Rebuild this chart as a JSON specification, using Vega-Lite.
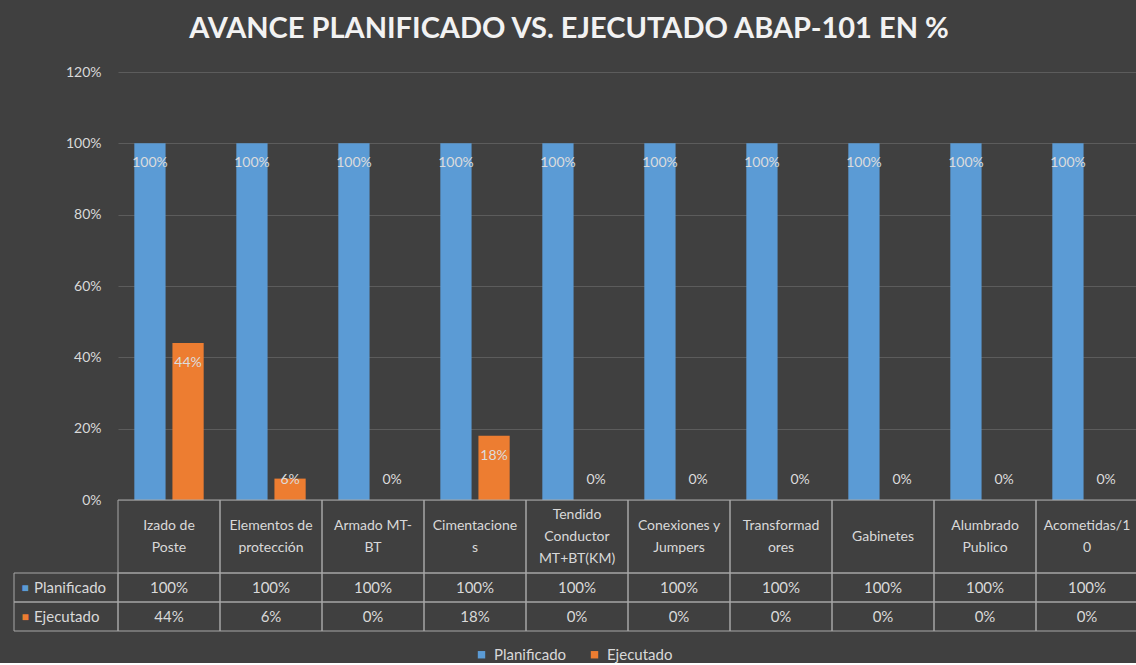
{
  "$schema": "https://vega.github.io/schema/vega-lite/v6.json",
  "background": "#404040",
  "padding": {"left": 13, "top": 15, "right": 0, "bottom": 0},
  "title": {"text": "AVANCE PLANIFICADO VS. EJECUTADO ABAP-101 EN %", "fontSize": 29, "font": "Lato", "fontWeight": "bold", "color": "#f2f2f2", "anchor": "middle", "offset": 21, "dx": -7, "limit": 1100},
  "data": {"values": [
    {"cat": "Izado de Poste", "label": "Izado de\nPoste", "serie": "Planificado", "value": 1.0},
    {"cat": "Izado de Poste", "label": "Izado de\nPoste", "serie": "Ejecutado", "value": 0.44},
    {"cat": "Elementos de protección", "label": "Elementos de\nprotección", "serie": "Planificado", "value": 1.0},
    {"cat": "Elementos de protección", "label": "Elementos de\nprotección", "serie": "Ejecutado", "value": 0.06},
    {"cat": "Armado MT-BT", "label": "Armado MT-\nBT", "serie": "Planificado", "value": 1.0},
    {"cat": "Armado MT-BT", "label": "Armado MT-\nBT", "serie": "Ejecutado", "value": 0.0},
    {"cat": "Cimentaciones", "label": "Cimentacione\ns", "serie": "Planificado", "value": 1.0},
    {"cat": "Cimentaciones", "label": "Cimentacione\ns", "serie": "Ejecutado", "value": 0.18},
    {"cat": "Tendido Conductor MT+BT(KM)", "label": "Tendido\nConductor\nMT+BT(KM)", "serie": "Planificado", "value": 1.0},
    {"cat": "Tendido Conductor MT+BT(KM)", "label": "Tendido\nConductor\nMT+BT(KM)", "serie": "Ejecutado", "value": 0.0},
    {"cat": "Conexiones y Jumpers", "label": "Conexiones y\nJumpers", "serie": "Planificado", "value": 1.0},
    {"cat": "Conexiones y Jumpers", "label": "Conexiones y\nJumpers", "serie": "Ejecutado", "value": 0.0},
    {"cat": "Transformadores", "label": "Transformad\nores", "serie": "Planificado", "value": 1.0},
    {"cat": "Transformadores", "label": "Transformad\nores", "serie": "Ejecutado", "value": 0.0},
    {"cat": "Gabinetes", "label": "Gabinetes", "serie": "Planificado", "value": 1.0},
    {"cat": "Gabinetes", "label": "Gabinetes", "serie": "Ejecutado", "value": 0.0},
    {"cat": "Alumbrado Publico", "label": "Alumbrado\nPublico", "serie": "Planificado", "value": 1.0},
    {"cat": "Alumbrado Publico", "label": "Alumbrado\nPublico", "serie": "Ejecutado", "value": 0.0},
    {"cat": "Acometidas/10", "label": "Acometidas/1\n0", "serie": "Planificado", "value": 1.0},
    {"cat": "Acometidas/10", "label": "Acometidas/1\n0", "serie": "Ejecutado", "value": 0.0}
  ]},
  "columns": 2,
  "spacing": 0,
  "bounds": "flush",
  "concat": [
    {"width": 104, "height": 428, "mark": {"type": "text", "text": ""}, "encoding": {}},
    {
      "width": 1020, "height": 428,
      "encoding": {
        "x": {"field": "cat", "type": "nominal", "sort": ["Izado de Poste", "Elementos de protección", "Armado MT-BT", "Cimentaciones", "Tendido Conductor MT+BT(KM)", "Conexiones y Jumpers", "Transformadores", "Gabinetes", "Alumbrado Publico", "Acometidas/10"], "scale": {"paddingInner": 0.32, "paddingOuter": 0.16}, "axis": null},
        "xOffset": {"field": "serie", "type": "nominal", "sort": ["Planificado", "Ejecutado"], "scale": {"paddingInner": 0.18}}
      },
      "layer": [
        {
          "mark": {"type": "bar"},
          "encoding": {
            "y": {"field": "value", "type": "quantitative", "scale": {"domain": [0, 1.2]}, "axis": {"values": [0, 0.2, 0.4, 0.6, 0.8, 1.0, 1.2], "format": ".0%", "title": null, "domain": false, "ticks": false, "labelPadding": 17, "gridColor": "#5c5c5c", "gridWidth": 1, "labelColor": "#d9d9d9", "labelFontSize": 14}},
            "color": {"field": "serie", "type": "nominal", "scale": {"domain": ["Planificado", "Ejecutado"], "range": ["#5B9BD5", "#ED7D31"]}, "legend": {"orient": "none", "legendX": 460, "legendY": 575, "direction": "horizontal", "title": null, "symbolType": "square", "symbolSize": 55, "labelColor": "#d9d9d9", "labelFontSize": 15, "columnPadding": 20, "symbolStrokeWidth": 0, "labelOffset": 5}}
          }
        },
        {
          "transform": [{"filter": "datum.value >= 0.1"}],
          "mark": {"type": "text", "baseline": "middle", "dy": 20, "color": "#dcdcdc", "fontSize": 14},
          "encoding": {
            "y": {"field": "value", "type": "quantitative"},
            "text": {"field": "value", "type": "quantitative", "format": ".0%"}
          }
        },
        {
          "transform": [{"filter": "datum.value < 0.1"}],
          "mark": {"type": "text", "baseline": "middle", "dy": -20, "color": "#dcdcdc", "fontSize": 14},
          "encoding": {
            "y": {"datum": 0, "type": "quantitative"},
            "text": {"field": "value", "type": "quantitative", "format": ".0%"}
          }
        }
      ]
    },
    {"width": 104, "height": 73, "mark": {"type": "text", "text": ""}, "encoding": {}},
    {
      "width": 1020, "height": 73,
      "transform": [{"filter": "datum.serie == 'Planificado'"}],
      "encoding": {
        "x": {"field": "cat", "type": "nominal", "sort": ["Izado de Poste", "Elementos de protección", "Armado MT-BT", "Cimentaciones", "Tendido Conductor MT+BT(KM)", "Conexiones y Jumpers", "Transformadores", "Gabinetes", "Alumbrado Publico", "Acometidas/10"], "scale": {"paddingInner": 0, "paddingOuter": 0}, "axis": null},
        "text": {"field": "label"}
      },
      "layer": [
        {"mark": {"type": "rect", "fillOpacity": 0, "stroke": "#a6a6a6", "strokeWidth": 1}, "encoding": {"text": null}},
        {"transform": [{"filter": "length(split(datum.label, '\\n')) == 1"}], "mark": {"type": "text", "lineBreak": "\n", "lineHeight": 22, "color": "#d9d9d9", "fontSize": 14, "baseline": "middle"}},
        {"transform": [{"filter": "length(split(datum.label, '\\n')) == 2"}], "mark": {"type": "text", "lineBreak": "\n", "lineHeight": 22, "color": "#d9d9d9", "fontSize": 14, "baseline": "middle", "dy": -11}},
        {"transform": [{"filter": "length(split(datum.label, '\\n')) == 3"}], "mark": {"type": "text", "lineBreak": "\n", "lineHeight": 22, "color": "#d9d9d9", "fontSize": 14, "baseline": "middle", "dy": -22}}
      ]
    },
    {
      "width": 104, "height": 58,
      "transform": [{"aggregate": [{"op": "count", "as": "n"}], "groupby": ["serie"]}],
      "encoding": {
        "y": {"field": "serie", "type": "nominal", "sort": ["Planificado", "Ejecutado"], "scale": {"paddingInner": 0, "paddingOuter": 0}, "axis": null}
      },
      "layer": [
        {"mark": {"type": "rect", "fillOpacity": 0, "stroke": "#a6a6a6", "strokeWidth": 1}},
        {"mark": {"type": "text", "text": "■", "dx": -41, "fontSize": 12, "baseline": "middle"}, "encoding": {"color": {"field": "serie", "type": "nominal"}}},
        {"mark": {"type": "text", "align": "left", "dx": -32, "color": "#d9d9d9", "fontSize": 15, "baseline": "middle"}, "encoding": {"text": {"field": "serie"}}}
      ]
    },
    {
      "width": 1020, "height": 58,
      "encoding": {
        "x": {"field": "cat", "type": "nominal", "sort": ["Izado de Poste", "Elementos de protección", "Armado MT-BT", "Cimentaciones", "Tendido Conductor MT+BT(KM)", "Conexiones y Jumpers", "Transformadores", "Gabinetes", "Alumbrado Publico", "Acometidas/10"], "scale": {"paddingInner": 0, "paddingOuter": 0}, "axis": null},
        "y": {"field": "serie", "type": "nominal", "sort": ["Planificado", "Ejecutado"], "scale": {"paddingInner": 0, "paddingOuter": 0}, "axis": null}
      },
      "layer": [
        {"mark": {"type": "rect", "fillOpacity": 0, "stroke": "#a6a6a6", "strokeWidth": 1}},
        {"mark": {"type": "text", "color": "#d9d9d9", "fontSize": 15, "baseline": "middle"}, "encoding": {"text": {"field": "value", "type": "quantitative", "format": ".0%"}}}
      ]
    }
  ],
  "config": {
    "font": "Lato",
    "view": {"stroke": null}
  }
}
